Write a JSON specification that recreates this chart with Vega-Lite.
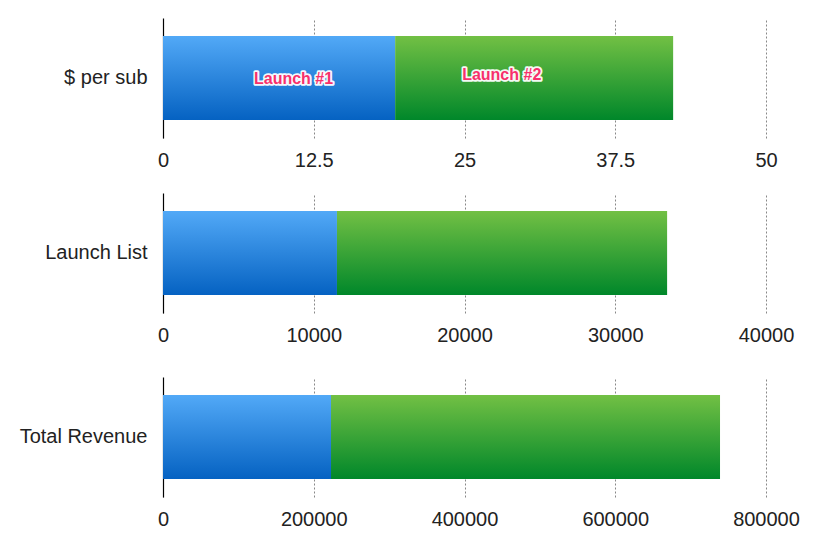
{
  "$schema": "https://vega.github.io/schema/vega-lite/v6.json",
  "background": "white",
  "padding": {"left": 19, "top": 18, "right": 5, "bottom": 5},
  "spacing": 23,
  "datasets": {
    "rows": [
      {"metric": "$ per sub", "launch": "Launch #1", "value": 19.25},
      {"metric": "$ per sub", "launch": "Launch #2", "value": 23.05},
      {"metric": "Launch List", "launch": "Launch #1", "value": 11540},
      {"metric": "Launch List", "launch": "Launch #2", "value": 21900},
      {"metric": "Total Revenue", "launch": "Launch #1", "value": 222900},
      {"metric": "Total Revenue", "launch": "Launch #2", "value": 516100}
    ]
  },
  "config": {
    "view": {"stroke": null},
    "font": "Liberation Sans",
    "axisX": {
      "grid": true, "gridDash": [2, 2], "gridColor": "#888", "gridWidth": 1,
      "domain": false, "ticks": false,
      "labelFont": "Liberation Sans", "labelFontSize": 20, "labelColor": "#222",
      "labelPadding": 12, "labelFlush": false, "labelOverlap": false, "title": null
    },
    "axisY": {
      "grid": false, "ticks": false, "domainColor": "#000", "domainWidth": 1.2,
      "labelFont": "Liberation Sans", "labelFontSize": 20, "labelColor": "#222",
      "labelPadding": 16, "title": null, "zindex": 1
    }
  },
  "vconcat": [
    {
      "width": 603, "height": 120,
      "data": {"name": "rows"},
      "transform": [
        {"filter": "datum.metric == '$ per sub'"},
        {"stack": "value", "groupby": ["metric"], "as": ["x0", "x1"], "sort": [{"field": "launch", "order": "ascending"}]}
      ],
      "encoding": {
        "y": {"field": "metric", "type": "nominal", "scale": {"paddingInner": 0.3, "paddingOuter": 0.15}},
        "x": {"field": "x0", "type": "quantitative", "scale": {"domain": [0, 50], "nice": false},
              "axis": {"values": [0, 12.5, 25, 37.5, 50], "format": ".1~f"}},
        "x2": {"field": "x1"}
      },
      "layer": [
        {
          "transform": [{"filter": "datum.launch == 'Launch #1'"}],
          "mark": {"type": "bar", "color": {"gradient": "linear", "x1": 0, "y1": 0, "x2": 0, "y2": 1,
            "stops": [{"offset": 0, "color": "#52a9f7"}, {"offset": 1, "color": "#0562c2"}]}}
        },
        {
          "transform": [{"filter": "datum.launch == 'Launch #2'"}],
          "mark": {"type": "bar", "color": {"gradient": "linear", "x1": 0, "y1": 0, "x2": 0, "y2": 1,
            "stops": [{"offset": 0, "color": "#72c044"}, {"offset": 1, "color": "#00872a"}]}}
        },
        {
          "transform": [{"filter": "datum.launch == 'Launch #1'"}],
          "mark": {"type": "text", "align": "left", "baseline": "middle", "dx": 91, "dy": 1, "font": "Liberation Sans",
                   "fontSize": 16, "fontWeight": "bold", "fill": "#fff", "stroke": "#fff", "strokeWidth": 3.5,
                   "strokeJoin": "round", "strokeOpacity": 0.95},
          "encoding": {"text": {"field": "launch"}, "x2": null}
        },
        {
          "transform": [{"filter": "datum.launch == 'Launch #1'"}],
          "mark": {"type": "text", "align": "left", "baseline": "middle", "dx": 91, "dy": 1, "font": "Liberation Sans",
                   "fontSize": 16, "fontWeight": "bold", "color": "#f7306c"},
          "encoding": {"text": {"field": "launch"}, "x2": null}
        },
        {
          "transform": [{"filter": "datum.launch == 'Launch #2'"}],
          "mark": {"type": "text", "align": "left", "baseline": "middle", "dx": 67, "dy": -3, "font": "Liberation Sans",
                   "fontSize": 16, "fontWeight": "bold", "fill": "#fff", "stroke": "#fff", "strokeWidth": 3.5,
                   "strokeJoin": "round", "strokeOpacity": 0.95},
          "encoding": {"text": {"field": "launch"}, "x2": null}
        },
        {
          "transform": [{"filter": "datum.launch == 'Launch #2'"}],
          "mark": {"type": "text", "align": "left", "baseline": "middle", "dx": 67, "dy": -3, "font": "Liberation Sans",
                   "fontSize": 16, "fontWeight": "bold", "color": "#f7306c"},
          "encoding": {"text": {"field": "launch"}, "x2": null}
        }
      ]
    },
    {
      "width": 603, "height": 120,
      "data": {"name": "rows"},
      "transform": [
        {"filter": "datum.metric == 'Launch List'"},
        {"stack": "value", "groupby": ["metric"], "as": ["x0", "x1"], "sort": [{"field": "launch", "order": "ascending"}]}
      ],
      "encoding": {
        "y": {"field": "metric", "type": "nominal", "scale": {"paddingInner": 0.3, "paddingOuter": 0.15}},
        "x": {"field": "x0", "type": "quantitative", "scale": {"domain": [0, 40000], "nice": false},
              "axis": {"values": [0, 10000, 20000, 30000, 40000], "format": "d",
                       "title": " ", "titleFontSize": 9, "titlePadding": 0}},
        "x2": {"field": "x1"}
      },
      "layer": [
        {
          "transform": [{"filter": "datum.launch == 'Launch #1'"}],
          "mark": {"type": "bar", "color": {"gradient": "linear", "x1": 0, "y1": 0, "x2": 0, "y2": 1,
            "stops": [{"offset": 0, "color": "#52a9f7"}, {"offset": 1, "color": "#0562c2"}]}}
        },
        {
          "transform": [{"filter": "datum.launch == 'Launch #2'"}],
          "mark": {"type": "bar", "color": {"gradient": "linear", "x1": 0, "y1": 0, "x2": 0, "y2": 1,
            "stops": [{"offset": 0, "color": "#72c044"}, {"offset": 1, "color": "#00872a"}]}}
        }
      ]
    },
    {
      "width": 603, "height": 120,
      "data": {"name": "rows"},
      "transform": [
        {"filter": "datum.metric == 'Total Revenue'"},
        {"stack": "value", "groupby": ["metric"], "as": ["x0", "x1"], "sort": [{"field": "launch", "order": "ascending"}]}
      ],
      "encoding": {
        "y": {"field": "metric", "type": "nominal", "scale": {"paddingInner": 0.3, "paddingOuter": 0.15}},
        "x": {"field": "x0", "type": "quantitative", "scale": {"domain": [0, 800000], "nice": false},
              "axis": {"values": [0, 200000, 400000, 600000, 800000], "format": "d"}},
        "x2": {"field": "x1"}
      },
      "layer": [
        {
          "transform": [{"filter": "datum.launch == 'Launch #1'"}],
          "mark": {"type": "bar", "color": {"gradient": "linear", "x1": 0, "y1": 0, "x2": 0, "y2": 1,
            "stops": [{"offset": 0, "color": "#52a9f7"}, {"offset": 1, "color": "#0562c2"}]}}
        },
        {
          "transform": [{"filter": "datum.launch == 'Launch #2'"}],
          "mark": {"type": "bar", "color": {"gradient": "linear", "x1": 0, "y1": 0, "x2": 0, "y2": 1,
            "stops": [{"offset": 0, "color": "#72c044"}, {"offset": 1, "color": "#00872a"}]}}
        }
      ]
    }
  ]
}
